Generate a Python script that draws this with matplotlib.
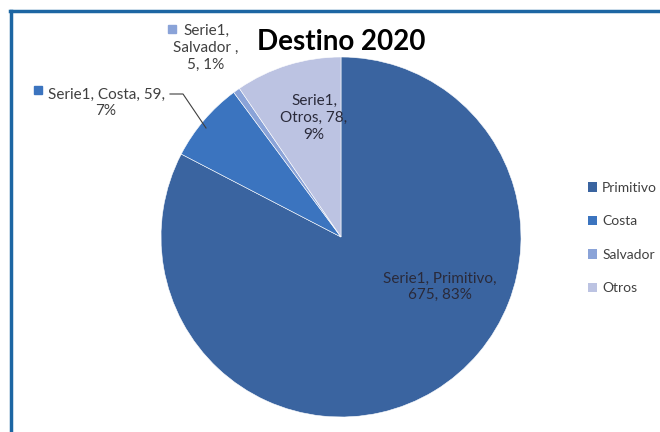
import matplotlib.pyplot as plt
from matplotlib.lines import Line2D
from matplotlib.patches import Patch

categories = ['Primitivo', 'Costa', 'Salvador', 'Otros']
values = [675, 59, 5, 78]
percents = ['83%', '7%', '1%', '9%']
series_name = 'Serie1'
colors = ['#3A64A0', '#3B74BF', '#8AA3D8', '#BCC3E2']
text_color = '#404040'

plt.rcParams['font.family'] = ['Lato', 'DejaVu Sans']

fig = plt.figure(figsize=(6.6, 4.32), dpi=100)
fig.patch.set_facecolor('white')

# frame lines (top and left edge of the original box)
fig.add_artist(Line2D([10 / 660, 1], [1 - 11 / 432, 1 - 11 / 432], color='#1D66A3', lw=2.5))
fig.add_artist(Line2D([11 / 660, 11 / 660], [0, 1 - 11 / 432], color='#1D66A3', lw=2.5))

cx, cy, r = 341, 237, 180
ax = fig.add_axes([(cx - r) / 660, (432 - cy - r) / 432, 2 * r / 660, 2 * r / 432])
ax.pie(values, colors=colors, startangle=90, counterclock=False,
       wedgeprops=dict(edgecolor='white', linewidth=0.4))
ax.set_xlim(-1, 1)
ax.set_ylim(-1, 1)
ax.set_aspect('equal')
ax.axis('off')


def d(px, py):
    return ((px - cx) / r, (cy - py) / r)


fs = 11
# Primitivo label (inside)
ax.text(*d(440, 287), f'{series_name}, {categories[0]},\n{values[0]}, {percents[0]}',
        ha='center', va='center', fontsize=fs, color='#2A2A3A', linespacing=1.25)
# Otros label (inside)
ax.text(*d(314, 118), f'{series_name},\n{categories[3]}, {values[3]},\n{percents[3]}',
        ha='center', va='center', fontsize=fs, color='#2A2A3A', linespacing=1.25)
# Costa label (outside, with leader line)
ax.text(*d(106, 103), f'{series_name}, {categories[1]}, {values[1]},\n{percents[1]}',
        ha='center', va='center', fontsize=fs, color=text_color, linespacing=1.25,
        clip_on=False)
ax.plot(*d(38, 90), marker='s', color=colors[1], ms=6, clip_on=False)
lx = [d(170, 94)[0], d(183, 94)[0], d(206, 128)[0]]
ly = [d(170, 94)[1], d(183, 94)[1], d(206, 128)[1]]
ax.plot(lx, ly, color=text_color, lw=0.8, clip_on=False)
# Salvador label (outside)
ax.text(*d(206, 48), f'{series_name},\n{categories[2]} ,\n{values[2]}, {percents[2]}',
        ha='center', va='center', fontsize=fs, color=text_color, linespacing=1.25,
        clip_on=False)
ax.plot(*d(172, 29), marker='s', color=colors[2], ms=6, clip_on=False)

fig.text(341 / 660, 1 - 42 / 432, 'Destino 2020', ha='center', va='center',
         fontsize=20, fontweight='bold', color='black')

handles = [Patch(facecolor=c, edgecolor='none') for c in colors]
fig.legend(handles, categories, loc='center left', bbox_to_anchor=(575 / 660, 1 - 238 / 432),
           frameon=False, fontsize=10, labelcolor=text_color, handlelength=0.7,
           handleheight=0.7, handletextpad=0.35, labelspacing=1.55)

fig.savefig('out.png', dpi=100)
